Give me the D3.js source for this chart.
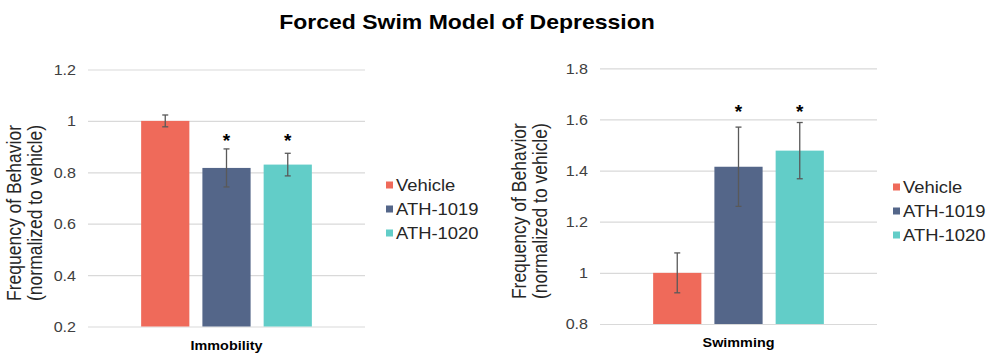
<!DOCTYPE html>
<html>
<head>
<meta charset="utf-8">
<script src="https://cdn.jsdelivr.net/npm/d3@7"></script>
<style>
  body { margin: 0; background: #fff; }
  text { font-family: "Liberation Sans", Arial, sans-serif; }
</style>
</head>
<body>
<div id="chart"></div>
<script>
var svgWidth = 989;
var svgHeight = 363;

// the source image is stretched sideways a bit, so text gets the same stretch
var stretch = 1.15;

// data
var series = ["Vehicle", "ATH-1019", "ATH-1020"];
var colors = ["#EF6A5A", "#546689", "#62CDC8"];
var behaviors = ["Immobility", "Swimming"];

var immobilityMeans = [1.0, 0.817, 0.830];
var immobilityErrors = [0.023, 0.074, 0.044];
var immobilitySig = [false, true, true];
var immobilityTicks = [0.2, 0.4, 0.6, 0.8, 1, 1.2];

var swimmingMeans = [1.0, 1.415, 1.478];
var swimmingErrors = [0.078, 0.155, 0.11];
var swimmingSig = [false, true, true];
var swimmingTicks = [0.8, 1, 1.2, 1.4, 1.6, 1.8];

// height (in data units) where the asterisks sit
var sigLevels = [0.94, 1.65];

var panels = [
  { name: behaviors[0], means: immobilityMeans, errors: immobilityErrors, sig: immobilitySig,
    ticks: immobilityTicks, sigLevel: sigLevels[0],
    left: 88, right: 365, top: 69.5, bottom: 326.5, labelX: 14, legendX: 386, legendY: 185 },
  { name: behaviors[1], means: swimmingMeans, errors: swimmingErrors, sig: swimmingSig,
    ticks: swimmingTicks, sigLevel: sigLevels[1],
    left: 600, right: 877, top: 68.3, bottom: 324, labelX: 519, legendX: 893, legendY: 187 }
];

var svg = d3.select("#chart")
  .append("svg")
  .attr("width", svgWidth)
  .attr("height", svgHeight);

// title
svg.append("text")
  .attr("transform", `translate(467, 29) scale(${stretch}, 1)`)
  .attr("text-anchor", "middle")
  .attr("font-size", "20px")
  .attr("font-weight", "bold")
  .attr("fill", "#000")
  .text("Forced Swim Model of Depression");

panels.forEach(function(p) {
  var g = svg.append("g");

  var yScale = d3.scaleLinear()
    .domain([p.ticks[0], p.ticks[p.ticks.length - 1]])
    .range([p.bottom, p.top]);

  var x0 = d3.scaleBand()
    .domain([p.name])
    .range([p.left, p.right])
    .paddingOuter(0.254);

  var x1 = d3.scaleBand()
    .domain(series)
    .range([0, x0.bandwidth()])
    .paddingInner(0.213)
    .paddingOuter(0.106);

  // gridlines + tick labels
  var axis = g.append("g")
    .attr("transform", `translate(${p.left}, 0)`)
    .call(d3.axisLeft(yScale)
      .tickValues(p.ticks)
      .tickSize(-(p.right - p.left))
      .tickPadding(12)
      .tickFormat(d3.format("~g")));

  axis.select(".domain").remove();
  axis.selectAll("line")
    .attr("stroke", "#D9D9D9")
    .attr("stroke-width", 1.2);
  axis.selectAll("text")
    .attr("font-family", "Liberation Sans, Arial, sans-serif")
    .attr("font-size", "14px")
    .attr("fill", "#404040")
    .attr("x", -12 / stretch)
    .attr("dy", "0.35em")
    .attr("transform", `scale(${stretch}, 1)`);

  var rows = series.map(function(s, i) {
    return { series: s, mean: p.means[i], err: p.errors[i], sig: p.sig[i], color: colors[i] };
  });

  var cx = function(d) { return x0(p.name) + x1(d.series) + x1.bandwidth() / 2; };

  // bars
  g.selectAll(".bar")
    .data(rows)
    .enter()
    .append("rect")
    .attr("x", d => x0(p.name) + x1(d.series))
    .attr("y", d => yScale(d.mean))
    .attr("width", x1.bandwidth())
    .attr("height", d => yScale(p.ticks[0]) - yScale(d.mean))
    .attr("fill", d => d.color);

  // error bars
  var eb = g.selectAll(".err")
    .data(rows)
    .enter()
    .append("g")
    .attr("stroke", "#595959")
    .attr("stroke-width", 1.3);

  eb.append("line")
    .attr("x1", cx).attr("x2", cx)
    .attr("y1", d => yScale(d.mean + d.err))
    .attr("y2", d => yScale(d.mean - d.err));
  eb.append("line")
    .attr("x1", d => cx(d) - 3).attr("x2", d => cx(d) + 3)
    .attr("y1", d => yScale(d.mean + d.err))
    .attr("y2", d => yScale(d.mean + d.err));
  eb.append("line")
    .attr("x1", d => cx(d) - 3).attr("x2", d => cx(d) + 3)
    .attr("y1", d => yScale(d.mean - d.err))
    .attr("y2", d => yScale(d.mean - d.err));

  // asterisks
  g.selectAll(".sig")
    .data(rows.filter(d => d.sig))
    .enter()
    .append("text")
    .attr("x", cx)
    .attr("y", yScale(p.sigLevel) + 11)
    .attr("text-anchor", "middle")
    .attr("font-size", "19px")
    .attr("font-weight", "bold")
    .attr("fill", "#000")
    .text("*");

  // category label
  g.append("text")
    .attr("transform", `translate(${x0(p.name) + x0.bandwidth() / 2}, ${p.bottom + 23}) scale(${stretch}, 1)`)
    .attr("text-anchor", "middle")
    .attr("font-size", "12.5px")
    .attr("font-weight", "bold")
    .attr("fill", "#000")
    .text(p.name);

  // y axis title, two lines
  var midY = (p.top + p.bottom) / 2 + 15;
  ["Frequency of Behavior", "(normalized to vehicle)"].forEach(function(line, i) {
    g.append("text")
      .attr("transform", `translate(${p.labelX + i * 21}, ${midY}) scale(${stretch}, 1) rotate(-90)`)
      .attr("text-anchor", "middle")
      .attr("dy", "0.35em")
      .attr("font-size", "17.5px")
      .attr("fill", "#262626")
      .text(line);
  });

  // legend
  var legend = g.selectAll(".legend")
    .data(rows)
    .enter()
    .append("g")
    .attr("transform", (d, i) => `translate(${p.legendX}, ${p.legendY + i * 24})`);

  legend.append("rect")
    .attr("x", 0)
    .attr("y", -3.5)
    .attr("width", 7)
    .attr("height", 7)
    .attr("fill", d => d.color);

  legend.append("text")
    .attr("transform", `translate(10, 5.5) scale(${stretch}, 1)`)
    .attr("font-size", "16px")
    .attr("fill", "#262626")
    .text(d => d.series);
});
</script>
</body>
</html>
